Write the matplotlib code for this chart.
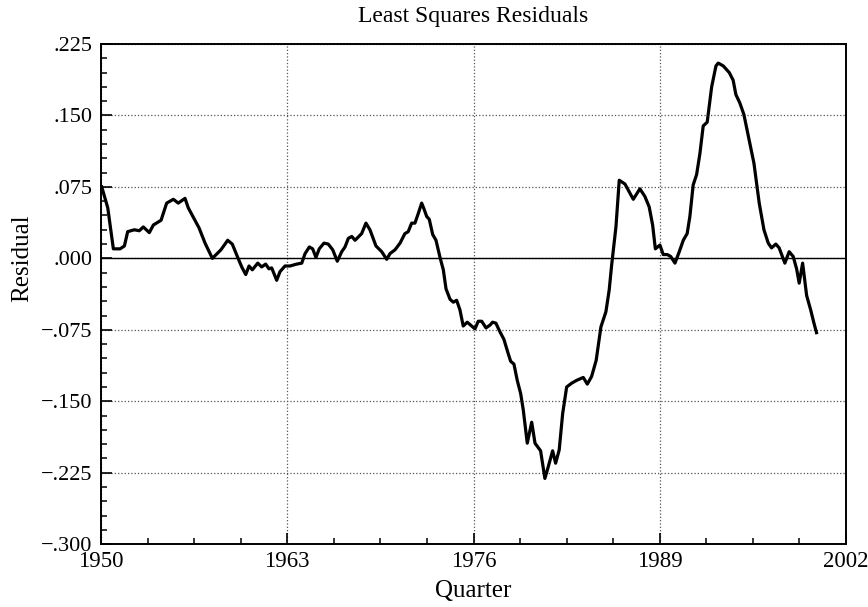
import matplotlib
matplotlib.use("Agg")
import matplotlib.pyplot as plt
import numpy as np
from matplotlib.ticker import FixedLocator, MultipleLocator

plt.rcParams['font.family'] = ['Liberation Serif', 'DejaVu Serif']

# Residuals (year, residual)
years = [
    1950.05, 1950.47, 1950.86, 1951.33, 1951.63, 1951.86, 1952.32, 1952.67, 1952.95, 1953.37,
    1953.65, 1954.19, 1954.58, 1955.05, 1955.39, 1955.86, 1956.09, 1956.84, 1957.26, 1957.77,
    1958.37, 1958.84, 1959.16, 1959.54, 1959.82, 1960.10, 1960.33, 1960.56, 1960.94, 1961.21,
    1961.49, 1961.72, 1961.91, 1962.26, 1962.49, 1962.84, 1963.19, 1963.66, 1964.01, 1964.24,
    1964.54, 1964.77, 1965.00, 1965.23, 1965.56, 1965.86, 1966.17, 1966.49, 1966.80, 1967.03,
    1967.26, 1967.50, 1967.73, 1968.19, 1968.49, 1968.77, 1969.19, 1969.59, 1969.94, 1970.17,
    1970.52, 1970.87, 1971.21, 1971.44, 1971.68, 1971.91, 1972.14, 1972.38, 1972.54, 1972.73,
    1972.91, 1973.15, 1973.38, 1973.66, 1973.89, 1974.08, 1974.36, 1974.59, 1974.82, 1975.05,
    1975.28, 1975.56, 1975.87, 1976.10, 1976.33, 1976.57, 1976.87, 1977.15, 1977.33, 1977.56,
    1977.84, 1978.12, 1978.42, 1978.59, 1978.82, 1979.05, 1979.29, 1979.47, 1979.75, 1980.06,
    1980.29, 1980.68, 1980.98, 1981.21, 1981.52, 1981.73, 1981.98, 1982.22, 1982.50, 1982.85,
    1983.20, 1983.66, 1983.94, 1984.24, 1984.56, 1984.89, 1985.24, 1985.47, 1985.64, 1985.80,
    1985.94, 1986.17, 1986.57, 1987.15, 1987.61, 1987.96, 1988.26, 1988.50, 1988.69, 1989.01,
    1989.24, 1989.52, 1989.76, 1990.06, 1990.36, 1990.64, 1990.91, 1991.10, 1991.33, 1991.57,
    1991.80, 1992.03, 1992.31, 1992.62, 1992.92, 1993.08, 1993.43, 1993.85, 1994.12, 1994.31,
    1994.59, 1994.87, 1995.24, 1995.57, 1995.94, 1996.27, 1996.57, 1996.80, 1997.10, 1997.33,
    1997.73, 1998.03, 1998.31, 1998.55, 1998.73, 1998.97, 1999.25, 1999.53, 1999.76, 1999.94,
]
residuals = [
    0.075, 0.053, 0.010, 0.010, 0.013, 0.028, 0.030, 0.029, 0.033, 0.027,
    0.035, 0.040, 0.058, 0.062, 0.058, 0.063, 0.053, 0.032, 0.016, 0.000,
    0.009, 0.019, 0.015, 0.001, -0.009, -0.017, -0.008, -0.012, -0.005, -0.009,
    -0.006, -0.011, -0.010, -0.023, -0.014, -0.008, -0.008, -0.006, -0.005, 0.005,
    0.012, 0.010, 0.001, 0.010, 0.016, 0.015, 0.009, -0.003, 0.007, 0.012,
    0.021, 0.023, 0.019, 0.026, 0.037, 0.030, 0.013, 0.007, -0.001, 0.005,
    0.009, 0.016, 0.026, 0.028, 0.037, 0.037, 0.047, 0.058, 0.052, 0.044,
    0.041, 0.025, 0.019, 0.001, -0.012, -0.032, -0.043, -0.046, -0.044, -0.054,
    -0.071, -0.067, -0.071, -0.074, -0.066, -0.066, -0.073, -0.070, -0.067, -0.068,
    -0.077, -0.085, -0.100, -0.108, -0.111, -0.128, -0.142, -0.159, -0.194, -0.172,
    -0.194, -0.202, -0.231, -0.219, -0.202, -0.215, -0.201, -0.163, -0.135, -0.131,
    -0.128, -0.125, -0.132, -0.124, -0.107, -0.072, -0.056, -0.033, -0.007, 0.014,
    0.033, 0.082, 0.078, 0.062, 0.073, 0.065, 0.054, 0.035, 0.010, 0.014,
    0.004, 0.004, 0.002, -0.005, 0.007, 0.019, 0.026, 0.044, 0.077, 0.088,
    0.110, 0.139, 0.143, 0.180, 0.202, 0.205, 0.202, 0.195, 0.187, 0.172,
    0.163, 0.151, 0.124, 0.100, 0.058, 0.030, 0.016, 0.011, 0.015, 0.011,
    -0.005, 0.007, 0.002, -0.011, -0.026, -0.005, -0.039, -0.054, -0.068, -0.078,
]

xticks = [1950, 1963, 1976, 1989, 2002]
yticks = [-0.300, -0.225, -0.150, -0.075, 0.000, 0.075, 0.150, 0.225]
ytick_labels = ["\u2212.300", "\u2212.225", "\u2212.150", "\u2212.075", ".000", ".075", ".150", ".225"]

fig = plt.figure(figsize=(8.68, 6.07), dpi=100)
ax = fig.add_axes([0.1164, 0.1035, 0.8583, 0.824])

ax.plot(years, residuals, color='black', lw=2.3, solid_joinstyle='round', zorder=3)
ax.axhline(0, color='black', lw=1.0, zorder=2)

ax.set_xlim(1950, 2002)
ax.set_ylim(-0.300, 0.225)

ax.xaxis.set_major_locator(FixedLocator(xticks))
ax.xaxis.set_minor_locator(MultipleLocator(3.25))
ax.yaxis.set_major_locator(FixedLocator(yticks))
ax.set_yticklabels(ytick_labels)
ax.yaxis.set_minor_locator(MultipleLocator(0.015))

ax.grid(True, which='major', linestyle=':', color='#555555', lw=0.9)

ax.tick_params(which='both', direction='in', top=False, right=False, colors='black')
ax.tick_params(which='major', length=8, width=1.2)
ax.tick_params(which='minor', length=4.5, width=1.1)
ax.tick_params(axis='x', which='major', pad=5, labelsize=16.5)
ax.tick_params(axis='y', which='major', pad=6, labelsize=16)

for s in ax.spines.values():
    s.set_linewidth(1.4)

ax.set_title("Least Squares Residuals", fontsize=17, pad=16)
ax.set_xlabel("Quarter", fontsize=18, labelpad=6)
ax.set_ylabel("Residual", fontsize=18, labelpad=6, y=0.572)

fig.savefig("out.png", dpi=100)
